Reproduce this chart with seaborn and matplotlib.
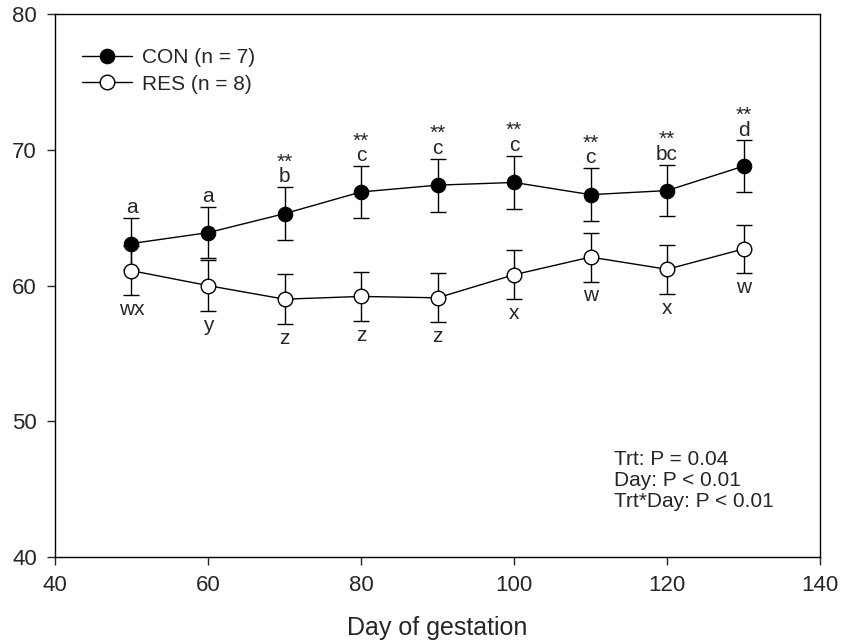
import numpy as np
import pandas as pd
import seaborn as sns
import matplotlib
matplotlib.use("Agg")
import matplotlib.pyplot as plt

days = [50, 60, 70, 80, 90, 100, 110, 120, 130]
con_mean = [63.1, 63.9, 65.3, 66.9, 67.4, 67.6, 66.7, 67.0, 68.8]
con_se = [1.9, 1.9, 1.95, 1.9, 1.95, 1.95, 1.95, 1.9, 1.9]
res_mean = [61.1, 60.0, 59.0, 59.2, 59.1, 60.8, 62.1, 61.2, 62.7]
res_se = [1.8, 1.85, 1.85, 1.8, 1.8, 1.8, 1.8, 1.8, 1.8]
con_letters = ['a', 'a', 'b', 'c', 'c', 'c', 'c', 'bc', 'd']
con_stars = ['', '', '**', '**', '**', '**', '**', '**', '**']
res_letters = ['wx', 'y', 'z', 'z', 'z', 'x', 'w', 'x', 'w']
stats_text = "Trt: P = 0.04\nDay: P < 0.01\nTrt*Day: P < 0.01"

df = pd.DataFrame({"day": days * 2,
                   "value": con_mean + res_mean,
                   "se": con_se + res_se,
                   "grp": ["CON (n = 7)"] * 9 + ["RES (n = 8)"] * 9})

sns.set_style("ticks")
plt.rcParams['font.family'] = ['Liberation Sans', 'DejaVu Sans']
fs = 15

fig, ax = plt.subplots(figsize=(8.42, 6.43), dpi=100)
fig.subplots_adjust(left=0.0653, right=0.974, top=0.978, bottom=0.1337)

# error bars first so the markers sit on top
for grp in df.grp.unique():
    d = df[df.grp == grp]
    ax.errorbar(d.day, d.value, yerr=d.se, fmt='none', ecolor='black',
                elinewidth=1, capsize=5.5, capthick=1, zorder=1)

con = df[df.grp == "CON (n = 7)"]
res = df[df.grp == "RES (n = 8)"]
sns.lineplot(data=con, x="day", y="value", ax=ax, color='black', lw=1,
             marker='o', markersize=10.5, markerfacecolor='black',
             markeredgecolor='black', label="CON (n = 7)", errorbar=None)
sns.lineplot(data=res, x="day", y="value", ax=ax, color='black', lw=1,
             marker='o', markersize=10.5, markerfacecolor='white',
             markeredgecolor='black', markeredgewidth=1,
             label="RES (n = 8)", errorbar=None)

# significance letters (stars stacked on top of the letter in one text)
for i, x in enumerate(days):
    top = con_mean[i] + con_se[i]
    lab = con_letters[i] if not con_stars[i] else con_stars[i] + "\n" + con_letters[i]
    ax.annotate(lab, (x, top), xytext=(0, 3.5), textcoords='offset points',
                ha='center', va='baseline', fontsize=fs, linespacing=0.72,
                multialignment='center')
    bot = res_mean[i] - res_se[i]
    ax.annotate(res_letters[i], (x, bot), xytext=(0, -3.5), textcoords='offset points',
                ha='center', va='top', fontsize=fs)

ax.text(0.73, 0.197, stats_text, transform=ax.transAxes, ha='left', va='top',
        fontsize=fs, linespacing=1.12)

ax.set_xlim(40, 140)
ax.set_ylim(40, 80)
ax.set_xticks(np.arange(40, 141, 20))
ax.set_yticks(np.arange(40, 81, 10))
ax.set_xlabel("Day of gestation", fontsize=18, labelpad=14)
ax.set_ylabel("")
ax.tick_params(direction='out', length=6, width=1, labelsize=16, pad=7)
for s in ax.spines.values():
    s.set_visible(True)
    s.set_linewidth(1)
    s.set_color('black')

ax.legend(loc='upper left', bbox_to_anchor=(0.035, 0.937), frameon=False,
          fontsize=fs, handlelength=2.4, handletextpad=0.5, labelspacing=0.35,
          borderpad=0, borderaxespad=0)

fig.savefig("out.png", dpi=100)
